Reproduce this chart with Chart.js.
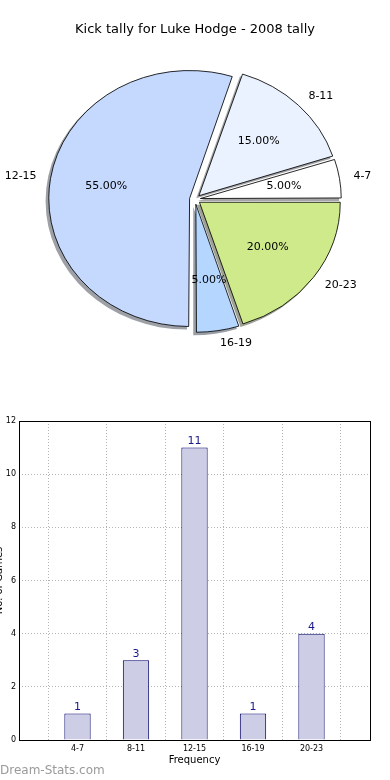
<!DOCTYPE html>
<html>
<head>
<meta charset="utf-8">
<title>Kick tally for Luke Hodge - 2008 tally</title>
<script src="https://cdn.jsdelivr.net/npm/chart.js@4"></script>
<style>
    body { margin: 0; background: #fff; width: 390px; height: 780px; overflow: hidden; position: relative; font-family: 'DejaVu Sans', sans-serif; }
    #pieBox { position: absolute; left: 0; top: 0; width: 390px; height: 400px; }
    #barBox { position: absolute; left: -7px; top: 400px; width: 397px; height: 380px; }
    #mark { position: absolute; left: 0; top: 763px; font-size: 12px; color: #9a9a9a; }
</style>
</head>
<body>
<div id="pieBox"><canvas id="pieChart"></canvas></div>
<div id="barBox"><canvas id="barChart"></canvas></div>
<div id="mark">Dream-Stats.com</div>
<script>
// Data
const categories = ['4-7', '8-11', '12-15', '16-19', '20-23'];
const kickCounts = [1, 3, 11, 1, 4];
const yTicks = [0, 2, 4, 6, 8, 10, 12];

const pieColors = ['#ffffff', '#eaf1ff', '#c5d9ff', '#b4d6ff', '#cfea8a'];

const FONT = 'DejaVu Sans';
const RADIUS = 128;     // px
const EXPLODE = 5;      // px each wedge is pulled out
const STRETCH_X = 1.1;  // pie is drawn as an ellipse, like the original

Chart.defaults.font.family = FONT;
Chart.defaults.color = '#000';
Chart.defaults.animation = false;

const total = kickCounts.reduce((a, b) => a + b, 0);

// chart.js draws clockwise, the original goes anticlockwise from 3 o'clock
const pieLabels = categories.slice().reverse();
const pieValues = kickCounts.slice().reverse();
const pieFill = pieColors.slice().reverse();

// shadows, ellipse stretch and the text round the pie
const piePlugin = {
    id: 'piePlugin',
    afterDatasetUpdate(chart, args) {
        // chart.js grows thin wedges when offset is set; take that back out
        args.meta.data.forEach(arc => {
            const fix = 1 - Math.sin(Math.min(Math.PI, arc.circumference));
            arc.outerRadius = RADIUS - EXPLODE * fix;
        });
    },
    beforeDatasetsDraw(chart) {
        const ctx = chart.ctx;
        const meta = chart.getDatasetMeta(0);
        const cx = meta.data[0].x;
        const cy = meta.data[0].y;
        ctx.save();
        ctx.translate(cx, cy);
        ctx.scale(STRETCH_X, 1);
        ctx.translate(-cx, -cy);
        // shadows first, under every wedge
        meta.data.forEach((arc, i) => {
            const mid = (arc.startAngle + arc.endAngle) / 2;
            const ox = arc.x + Math.cos(mid) * EXPLODE - 2.4;
            const oy = arc.y + Math.sin(mid) * EXPLODE + 2.6;
            const c = Chart.helpers.color(pieFill[i]).rgb;
            ctx.beginPath();
            ctx.moveTo(ox, oy);
            ctx.arc(ox, oy, RADIUS + 0.5, arc.startAngle, arc.endAngle);
            ctx.closePath();
            ctx.fillStyle = 'rgba(' + Math.round(c.r * 0.3) + ',' + Math.round(c.g * 0.3) + ',' + Math.round(c.b * 0.3) + ',0.5)';
            ctx.fill();
        });
    },
    afterDatasetsDraw(chart) {
        const ctx = chart.ctx;
        ctx.restore();
        const meta = chart.getDatasetMeta(0);
        ctx.save();
        ctx.font = '11px "' + FONT + '"';
        ctx.fillStyle = '#000';
        ctx.textBaseline = 'middle';
        meta.data.forEach((arc, i) => {
            const mid = (arc.startAngle + arc.endAngle) / 2;
            const cos = Math.cos(mid), sin = Math.sin(mid);
            const ax = arc.x + STRETCH_X * EXPLODE * cos;
            const ay = arc.y + EXPLODE * sin;
            // category label
            const lx = ax + STRETCH_X * 1.1 * RADIUS * cos;
            const ly = ay + 1.1 * RADIUS * sin;
            ctx.textAlign = cos > 0 ? 'left' : 'right';
            ctx.fillText(pieLabels[i], lx, ly);
            // percentage
            const px = ax + STRETCH_X * 0.6 * RADIUS * cos;
            const py = ay + 0.6 * RADIUS * sin;
            ctx.textAlign = 'center';
            ctx.fillText((pieValues[i] / total * 100).toFixed(2) + '%', px, py);
        });
        ctx.restore();
    }
};

new Chart(document.getElementById('pieChart'), {
    type: 'pie',
    data: {
        labels: pieLabels,
        datasets: [{
            data: pieValues,
            backgroundColor: pieFill,
            borderColor: '#000',
            borderWidth: 0.8,
            offset: 4 * EXPLODE
        }]
    },
    options: {
        responsive: true,
        maintainAspectRatio: false,
        radius: RADIUS,
        rotation: 90,
        layout: { padding: { top: 0, bottom: 49, left: 0, right: 0 } },
        plugins: {
            legend: { display: false },
            tooltip: { enabled: false },
            title: {
                display: true,
                text: 'Kick tally for Luke Hodge - 2008 tally',
                color: '#000',
                font: { size: 13, weight: 'normal' },
                padding: { top: 22, bottom: 10 }
            }
        }
    },
    plugins: [piePlugin]
});

// bar chart: empty slots at both ends so the bars sit at 1..5 on a 0..6 axis
const barLabels = [''].concat(categories, ['']);
const barValues = [null].concat(kickCounts, [null]);

const framePlugin = {
    id: 'frame',
    afterDraw(chart) {
        const a = chart.chartArea;
        const ctx = chart.ctx;
        ctx.save();
        ctx.strokeStyle = '#000';
        ctx.lineWidth = 1;
        ctx.strokeRect(Math.round(a.left) + 0.5, Math.round(a.top) + 0.5, Math.round(a.right - a.left), Math.round(a.bottom - a.top));
        ctx.restore();
    }
};

const valueLabels = {
    id: 'valueLabels',
    afterDatasetsDraw(chart) {
        const ctx = chart.ctx;
        const meta = chart.getDatasetMeta(0);
        ctx.save();
        ctx.font = '11px "' + FONT + '"';
        ctx.fillStyle = '#1a1a8c';
        ctx.textAlign = 'center';
        ctx.textBaseline = 'bottom';
        meta.data.forEach((bar, i) => {
            if (barValues[i] === null) return;
            ctx.fillText(String(barValues[i]), bar.x, bar.y - 1);
        });
        ctx.restore();
    }
};

const gridStyle = { color: '#b4b4b4', lineWidth: 1, drawTicks: false };

new Chart(document.getElementById('barChart'), {
    type: 'bar',
    data: {
        labels: barLabels,
        datasets: [{
            data: barValues,
            backgroundColor: '#cdcde6',
            borderColor: '#00006a',
            borderWidth: 1,
            barPercentage: 0.45,
            categoryPercentage: 1
        }]
    },
    options: {
        responsive: true,
        maintainAspectRatio: false,
        layout: { padding: { top: 21, right: 20, bottom: 14, left: 0 } },
        plugins: {
            legend: { display: false },
            tooltip: { enabled: false }
        },
        scales: {
            x: {
                offset: false,
                z: 1,
                grid: gridStyle,
                border: { display: false, dash: [1, 2] },
                ticks: { font: { size: 8 }, padding: 4, maxRotation: 0, autoSkip: false },
                title: { display: true, text: 'Frequency', font: { size: 10 }, padding: 0 },
                afterFit: (s) => { s.height = 26; }
            },
            y: {
                min: 0,
                max: 12,
                z: 1,
                grid: gridStyle,
                border: { display: false, dash: [1, 2] },
                afterBuildTicks: (s) => { s.ticks = yTicks.map(v => ({ value: v })); },
                ticks: { font: { size: 8 }, padding: 3 },
                title: { display: true, text: 'No. of Games', font: { size: 10 }, padding: 0 },
                afterFit: (s) => { s.width = 26; }
            }
        }
    },
    plugins: [valueLabels, framePlugin]
});
</script>
</body>
</html>
